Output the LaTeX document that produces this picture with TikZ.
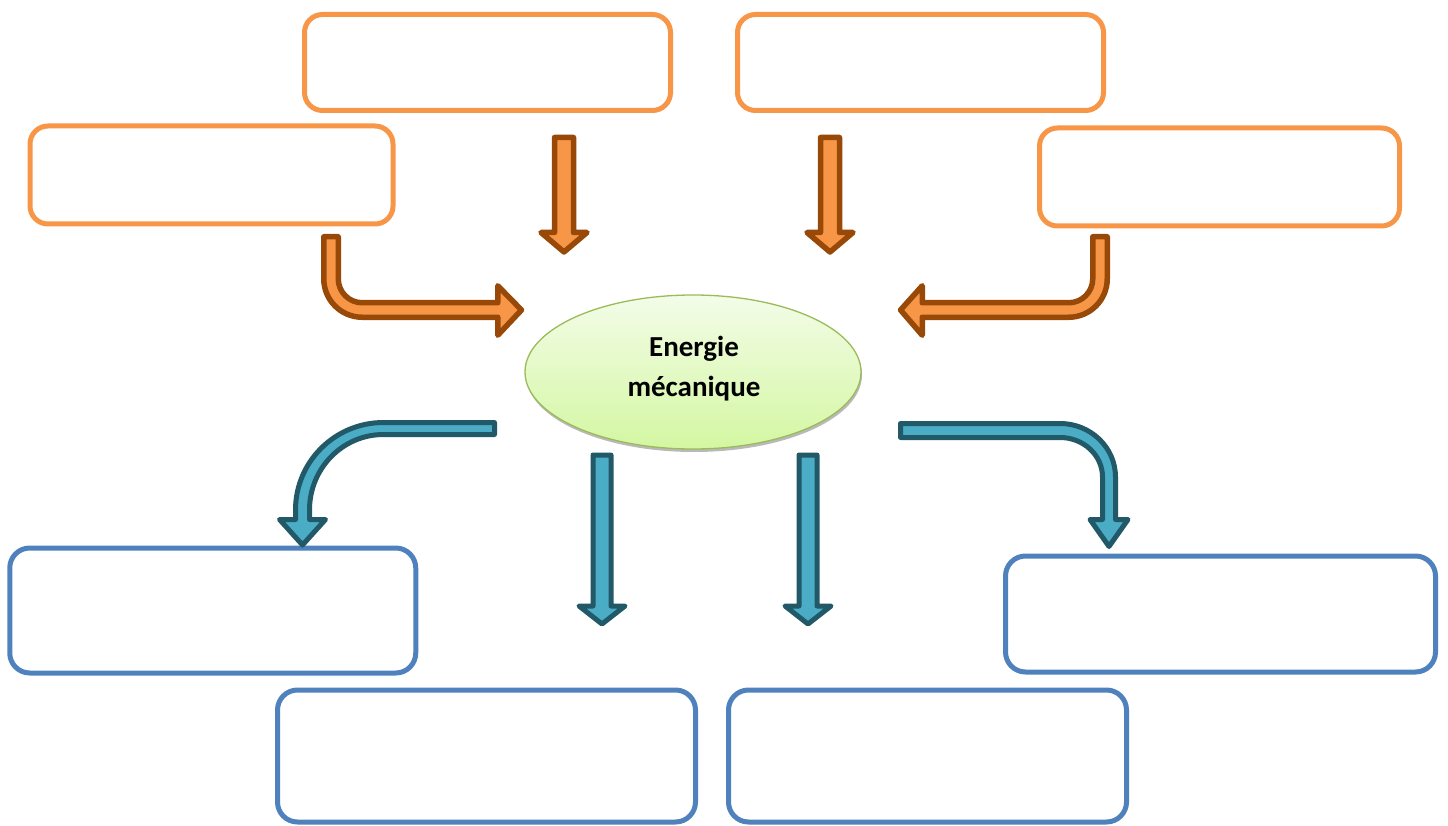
\documentclass[tikz,border=0pt]{standalone}
\usepackage{fontspec}
\setmainfont{Carlito}
\usetikzlibrary{shapes.geometric,shadows}

\definecolor{boxorange}{HTML}{F79646}
\definecolor{arrowfillorange}{HTML}{F79646}
\definecolor{arrowbrown}{HTML}{984807}
\definecolor{boxblue}{HTML}{4F81BD}
\definecolor{arrowteal}{HTML}{4BACC6}
\definecolor{arrowdark}{HTML}{215968}
\definecolor{ovalgreen}{HTML}{9BBB59}
\definecolor{ovaltop}{HTML}{F3FCE8}
\definecolor{ovalbottom}{HTML}{D4F7A2}

% straight block arrow pointing down:
% #1 style, #2 centre x, #3 top, #4 head base, #5 tip, #6 half shaft, #7 half head
\newcommand\dnblock[7]{%
  \draw[#1] ({#2-#6},#3) -- ({#2+#6},#3) -- ({#2+#6},#4) -- ({#2+#7},#4)
    -- (#2,#5) -- ({#2-#7},#4) -- ({#2-#6},#4) -- cycle;}

\begin{document}
\begin{tikzpicture}[x=1pt,y=-1pt,
  inbox/.style={draw=boxorange, line width=5pt, rounded corners=18pt, inner sep=0pt},
  outbox/.style={draw=boxblue, line width=5pt, rounded corners=20pt, inner sep=0pt},
  inarrow/.style={fill=arrowfillorange, draw=arrowbrown, line width=5.5pt, line join=round},
  outarrow/.style={fill=arrowteal, draw=arrowdark, line width=5pt, line join=round},
  core/.style={ellipse, draw=ovalgreen, line width=1.3pt, top color=ovaltop,
    bottom color=ovalbottom, inner sep=0pt,
    drop shadow={shadow xshift=1pt, shadow yshift=-3pt, fill=black!50, opacity=.55}},
  corelabel/.style={font=\bfseries\fontsize{29}{40}\selectfont, align=center, text=black}]

\useasboundingbox (0,0) rectangle (1448,826);

% input boxes
\node[inbox, minimum width=366pt, minimum height=96pt] (inA) at (487.5,62.5) {};
\node[inbox, minimum width=366pt, minimum height=96pt] (inB) at (920.5,62.5) {};
\node[inbox, minimum width=363pt, minimum height=98pt] (inC) at (211.5,175) {};
\node[inbox, minimum width=360pt, minimum height=98pt] (inD) at (1219.5,177) {};

% output boxes
\node[outbox, minimum width=406pt, minimum height=125pt] (outA) at (212.75,610.5) {};
\node[outbox, minimum width=430pt, minimum height=116pt] (outB) at (1220.5,614) {};
\node[outbox, minimum width=418pt, minimum height=132pt] (outC) at (486.5,756) {};
\node[outbox, minimum width=398pt, minimum height=132pt] (outD) at (927.5,756) {};

% central oval
\node[core, minimum width=336pt, minimum height=154pt] (energy) at (693,372) {};
\node[corelabel] (energylabel) at (694,369) {Energie\\mécanique};

% straight input arrows
\dnblock{inarrow}{564}{137.5}{232.5}{252}{9.5}{23}
\dnblock{inarrow}{830}{137.5}{232.5}{252}{9.5}{23}

% bent input arrow from the left box
\draw[inarrow] (323.75,236.75) -- (323.75,278.75)
  .. controls (323.75,300.01) and (340.99,317.25) .. (362.25,317.25)
  -- (497.75,317.25) -- (497.75,335.25) -- (521.5,310) -- (497.75,285.75)
  -- (497.75,302.75) -- (362.25,302.75)
  .. controls (348.99,302.75) and (338.25,292.01) .. (338.25,278.75)
  -- (338.25,236.75) -- cycle;

% bent input arrow from the right box
\draw[inarrow] (1107.25,236.75) -- (1107.25,278.75)
  .. controls (1107.25,300.01) and (1090.01,317.25) .. (1068.75,317.25)
  -- (922.25,317.25) -- (922.25,335.25) -- (900.5,310) -- (922.25,285.75)
  -- (922.25,302.75) -- (1068.75,302.75)
  .. controls (1082.01,302.75) and (1092.75,292.01) .. (1092.75,278.75)
  -- (1092.75,236.75) -- cycle;

% straight output arrows
\dnblock{outarrow}{602}{455}{606}{624}{9}{23}
\dnblock{outarrow}{808}{455}{606}{624}{9}{23}

% curved output arrow to the left
\draw[outarrow] (494.5,422.5) -- (383.5,422.5)
  .. controls (334.9,422.5) and (295.5,461.7) .. (295.5,510)
  -- (295.5,519.5) -- (279.5,519.5) -- (302.5,545) -- (325.5,519.5)
  -- (309.5,519.5) -- (309.5,510)
  .. controls (309.5,468.3) and (342.6,434.5) .. (383.5,434.5)
  -- (494.5,434.5) -- cycle;

% curved output arrow to the right
\draw[outarrow] (900.5,423.5) -- (1060,423.5)
  .. controls (1090.65,423.5) and (1115.5,447.45) .. (1115.5,477)
  -- (1115.5,519.5) -- (1128,519.5) -- (1109,546.5) -- (1090,519.5)
  -- (1102.5,519.5) -- (1102.5,477)
  .. controls (1102.5,455.18) and (1083.47,437.5) .. (1060,437.5)
  -- (900.5,437.5) -- cycle;

\end{tikzpicture}
\end{document}
